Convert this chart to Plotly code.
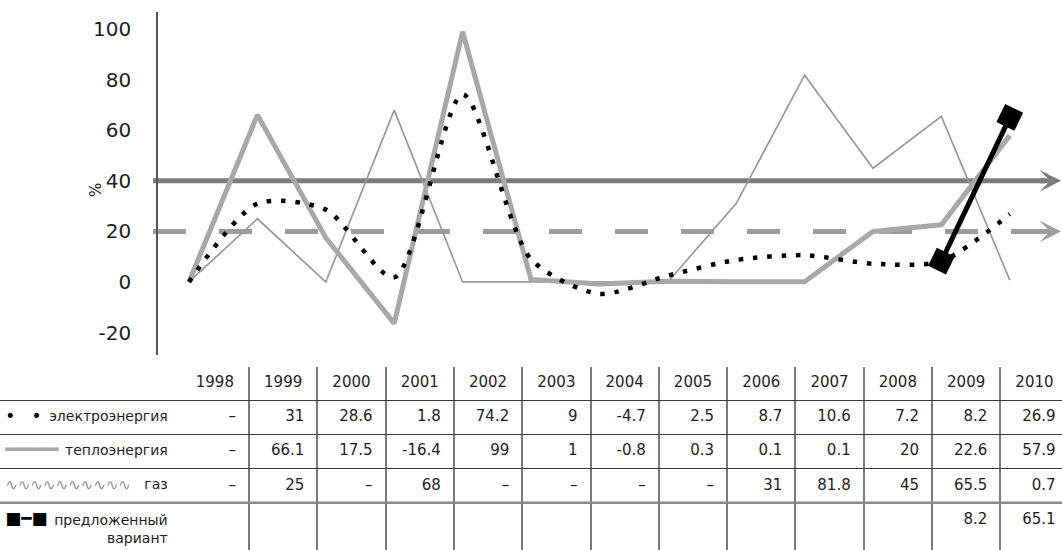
import plotly.graph_objects as go

# ---------------- data ----------------
years = [1998, 1999, 2000, 2001, 2002, 2003, 2004, 2005, 2006, 2007, 2008, 2009, 2010]
elec = [0, 31, 28.6, 1.8, 74.2, 9, -4.7, 2.5, 8.7, 10.6, 7.2, 8.2, 26.9]
heat = [0, 66.1, 17.5, -16.4, 99, 1, -0.8, 0.3, 0.1, 0.1, 20, 22.6, 57.9]
gas = [0, 25, 0, 68, 0, 0, 0, 0, 31, 81.8, 45, 65.5, 0.7]
proposed_years = [2009, 2010]
proposed = [8.2, 65.1]
thresholds = [40, 20]
y_ticks = [-20, 0, 20, 40, 60, 80, 100]
y_tick_text = ["-20", "0", "20", "40", "60", "80", "100"]

year_labels = ["1998", "1999", "2000", "2001", "2002", "2003", "2004", "2005",
               "2006", "2007", "2008", "2009", "2010"]
row_labels = ["электроэнергия", "теплоэнергия", "газ", "предложенный<br>вариант"]
elec_cells = ["–", "31", "28.6", "1.8", "74.2", "9", "-4.7", "2.5", "8.7", "10.6", "7.2", "8.2", "26.9"]
heat_cells = ["–", "66.1", "17.5", "-16.4", "99", "1", "-0.8", "0.3", "0.1", "0.1", "20", "22.6", "57.9"]
gas_cells = ["–", "25", "–", "68", "–", "–", "–", "–", "31", "81.8", "45", "65.5", "0.7"]
prop_cells = ["", "", "", "", "", "", "", "", "", "", "", "8.2", "65.1"]
legend_glyphs = ["•   •", "━━━━", "∿∿∿∿∿∿∿∿∿∿", "■━■"]

# ---------------- style ----------------
FONT = "DejaVu Sans"
TXT = "#1e1e1e"
W, H = 1062, 550
C_HEAT = "#a8a8aa"
C_GAS = "#9a9a9a"
C_REF1 = "#7b7b7b"
C_REF2 = "#9c9c9e"

fig = go.Figure()

# chart traces
fig.add_trace(go.Scatter(x=years, y=gas, mode="lines", line=dict(color=C_GAS, width=1.7),
                         xaxis="x", yaxis="y", hoverinfo="skip"))
fig.add_trace(go.Scatter(x=years, y=heat, mode="lines", line=dict(color=C_HEAT, width=5),
                         xaxis="x", yaxis="y", hoverinfo="skip"))
fig.add_trace(go.Scatter(x=years, y=elec, mode="lines",
                         line=dict(color="black", width=4.5, dash="4.5px,9.8px", shape="spline",
                                   smoothing=0.75),
                         xaxis="x", yaxis="y", hoverinfo="skip"))
fig.add_trace(go.Scatter(x=proposed_years, y=proposed, mode="lines+markers",
                         line=dict(color="black", width=5),
                         marker=dict(symbol="square", size=20, color="black", angle=26),
                         xaxis="x", yaxis="y", hoverinfo="skip"))

# threshold lines
x_start = 153 / W
x_end = 1045 / W
fig.add_shape(type="line", xref="paper", yref="y", x0=x_start, x1=x_end,
              y0=thresholds[0], y1=thresholds[0], line=dict(color=C_REF1, width=5), layer="below")
fig.add_shape(type="line", xref="paper", yref="y", x0=x_start, x1=x_end,
              y0=thresholds[1], y1=thresholds[1], line=dict(color=C_REF2, width=5, dash="33px,33px"),
              layer="below")
for t, c in zip(thresholds, [C_REF1, C_REF2]):
    fig.add_annotation(x=1061 / W, y=t, xref="paper", yref="y", ax=-22, ay=0,
                       showarrow=True, arrowhead=3, arrowsize=0.72, arrowwidth=5,
                       arrowcolor=c, text="")

fig.add_annotation(x=85 / W, y=(H - 181) / H, xref="paper", yref="paper", text="%",
                   showarrow=False, textangle=-90, font=dict(family=FONT, size=15, color=TXT))

# table traces
PAD = 0.31
fig.add_trace(go.Scatter(x=list(range(len(years))), y=[0] * len(years), text=year_labels,
                         mode="text", textposition="middle center",
                         textfont=dict(family=FONT, size=15, color=TXT),
                         xaxis="x2", yaxis="y2", hoverinfo="skip"))
for r, cells in enumerate([elec_cells, heat_cells, gas_cells, prop_cells], start=1):
    fig.add_trace(go.Scatter(x=[i + PAD for i in range(len(years))], y=[r] * len(years), text=cells,
                             mode="text", textposition="middle left",
                             textfont=dict(family=FONT, size=15, color=TXT),
                             xaxis="x2", yaxis="y2", hoverinfo="skip"))
label_y = [1, 2, 3, 4.3]
fig.add_trace(go.Scatter(x=[-0.69] * 4, y=label_y, text=row_labels, mode="text",
                         textposition="middle left",
                         textfont=dict(family=FONT, size=14, color=TXT),
                         xaxis="x2", yaxis="y2", hoverinfo="skip"))
fig.add_trace(go.Scatter(x=[-3.07] * 4, y=[1, 2, 3, 4], text=legend_glyphs, mode="text",
                         textposition="middle right",
                         textfont=dict(family=FONT, size=[17, 22, 15, 17],
                                       color=["black", C_HEAT, "#8f8f8f", "black"]),
                         xaxis="x2", yaxis="y2", hoverinfo="skip"))
fig.add_shape(type="line", xref="paper", yref="y2", x0=0, x1=1, y0=3.5, y1=3.5,
              line=dict(color="#8a8a8a", width=2.5))

# ---------------- layout ----------------
x_step = 68.4
x0_px, axis_px = 189, 158
r0 = years[0] - (x0_px - axis_px) / x_step
r1 = r0 + (W - axis_px) / x_step

t_step = 68.3
t_lo = 0.5 - 249 / t_step
t_hi = t_lo + W / t_step

fig.update_layout(
    width=W, height=H,
    margin=dict(l=0, r=0, t=0, b=0),
    paper_bgcolor="white", plot_bgcolor="rgba(0,0,0,0)",
    showlegend=False,
    font=dict(family=FONT, color=TXT),
    xaxis=dict(domain=[axis_px / W, 1], range=[r0, r1], showline=False, showgrid=False,
               zeroline=False, showticklabels=False, ticks="", fixedrange=True),
    yaxis=dict(domain=[(H - 355) / H, (H - 12) / H], range=[-28.9, 106.8],
               tickvals=y_ticks, ticktext=y_tick_text, showline=True, linecolor="#555555",
               linewidth=1.5, ticks="outside", ticklen=21, tickcolor="rgba(0,0,0,0)",
               tickfont=dict(family=FONT, size=20, color=TXT),
               showgrid=False, zeroline=False, fixedrange=True),
    xaxis2=dict(domain=[0, 1], range=[t_lo, t_hi], anchor="y2",
                tickvals=[i + 0.5 for i in range(len(years) - 1)], showticklabels=False,
                ticks="", showgrid=True, gridcolor="#7a7a7a", gridwidth=1.5,
                showline=False, zeroline=False, fixedrange=True),
    yaxis2=dict(domain=[0, (H - 367) / H], range=[4.876, -0.467], anchor="x2",
                tickvals=[0.5, 1.5, 2.5, 3.5], showticklabels=False, ticks="",
                showgrid=True, gridcolor="#3a3a3a", gridwidth=1,
                showline=False, zeroline=False, fixedrange=True),
)

fig.write_html("out.html", config={"displayModeBar": False},
               post_script="document.body.style.margin='0';document.body.style.overflow='hidden';")
